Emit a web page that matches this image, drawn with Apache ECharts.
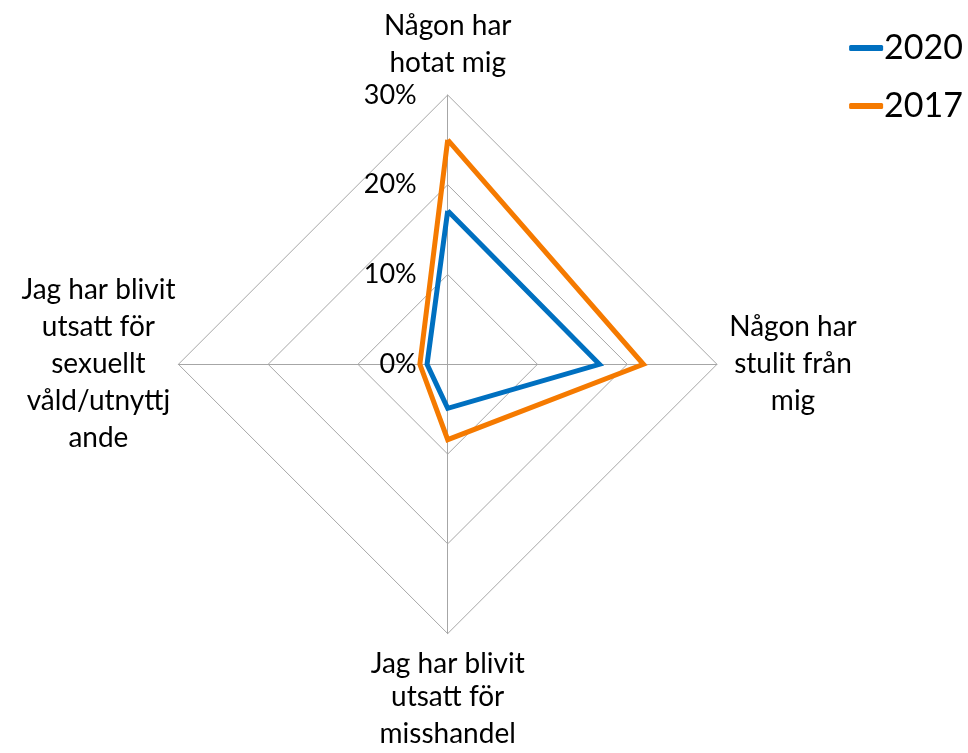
<!DOCTYPE html>
<html>
<head>
<meta charset="utf-8">
<script src="https://cdn.jsdelivr.net/npm/echarts@6/dist/echarts.min.js"></script>
<style>
  html, body { margin: 0; padding: 0; background: #fff; }
  #chart { width: 968px; height: 753px; }
</style>
</head>
<body>
<div id="chart"></div>
<script>
// Indicator order runs counter-clockwise from the top.
var indicators = [
  'Någon har\nhotat mig',
  'Jag har blivit\nutsatt för\nsexuellt\nvåld/utnyttj\nande',
  'Jag har blivit\nutsatt för\nmisshandel',
  'Någon har\nstulit från\nmig'
];
var nameStyles = ['c', 'l', 'b', 'r'];
var values2020 = [17.1, 2.3, 4.9, 16.9];
var values2017 = [25.0, 3.1, 8.4, 21.8];
var axisMax = 30;
var seriesNames = ['2020', '2017'];

var FONT = 'Lato';
var NAME_SIZE = 28;
var chart = echarts.init(document.getElementById('chart'));

function nameRich(extra) {
  var s = { fontFamily: FONT, fontSize: NAME_SIZE, lineHeight: 37, color: '#000', align: 'center' };
  for (var k in extra) s[k] = extra[k];
  return s;
}

chart.setOption({
  animation: false,
  legend: {
    orient: 'vertical',
    right: 0,
    top: 26,
    itemWidth: 34,
    itemHeight: 6,
    itemGap: 24,
    icon: 'roundRect',
    textStyle: { fontFamily: FONT, fontSize: 34, color: '#000', padding: [0, 0, 0, -4] },
    data: seriesNames
  },
  radar: {
    center: [447.7, 364.3],
    radius: 269.3,
    shape: 'polygon',
    splitNumber: 3,
    nameGap: 8,
    axisName: {
      color: '#000',
      fontFamily: FONT,
      fontSize: NAME_SIZE,
      lineHeight: 37,
      formatter: function (name, ind) {
        var key = ind.style;
        return name.split('\n').map(function (s, j) {
          var k = (key === 'b' && j === 0) ? 'b0' : key;
          return '{' + k + '|' + s + '}';
        }).join('\n');
      },
      rich: {
        c: nameRich({}),
        b: nameRich({}),
        b0: nameRich({ padding: [7, 0, 0, 0] }),
        l: nameRich({ width: 144 }),
        r: nameRich({ width: 136 })
      }
    },
    axisLine: { lineStyle: { color: '#A6A6A6', width: 1 } },
    splitLine: { lineStyle: { color: '#A6A6A6', width: 1 } },
    splitArea: { show: false },
    axisLabel: { show: false },
    indicator: indicators.map(function (n, i) {
      var ind = { name: n, min: 0, max: axisMax, style: nameStyles[i] };
      if (i === 0) {
        ind.axisLabel = {
          show: true,
          margin: 31,
          fontFamily: FONT,
          fontSize: 27,
          color: '#000',
          padding: [7, 0, 0, 0],
          formatter: '{value}%'
        };
      }
      return ind;
    })
  },
  series: [{
    type: 'radar',
    symbol: 'none',
    data: [
      { name: seriesNames[0], value: values2020,
        lineStyle: { color: '#0070C0', width: 5, join: 'miter' },
        itemStyle: { color: '#0070C0' } },
      { name: seriesNames[1], value: values2017,
        lineStyle: { color: '#F57A00', width: 5, join: 'miter' },
        itemStyle: { color: '#F57A00' } }
    ]
  }]
});
</script>
</body>
</html>
